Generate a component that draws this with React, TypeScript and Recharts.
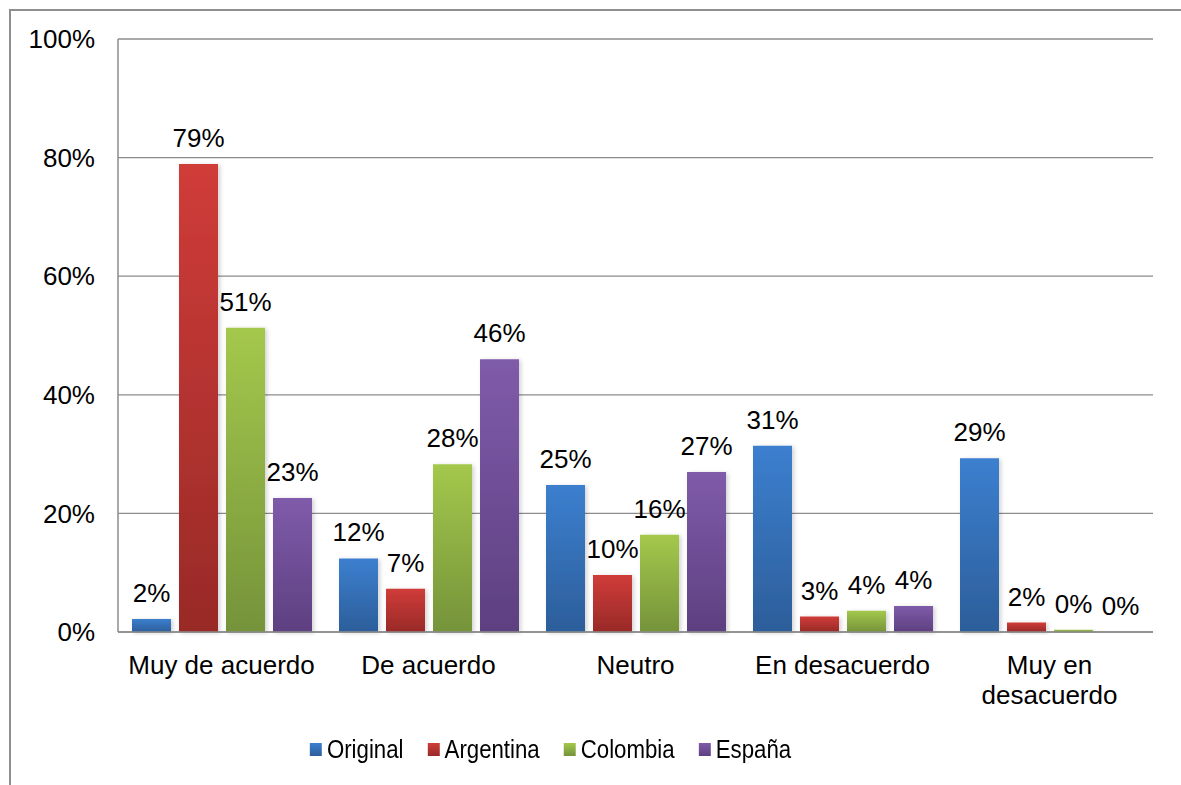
import React from 'react';
import { BarChart, Bar, XAxis, YAxis, CartesianGrid, Legend, LabelList, Rectangle } from 'recharts';

const categories = ['Muy de acuerdo', 'De acuerdo', 'Neutro', 'En desacuerdo', 'Muy en desacuerdo'];
const original = [2.2, 12.4, 24.8, 31.4, 29.3];
const argentina = [78.9, 7.3, 9.6, 2.6, 1.6];
const colombia = [51.3, 28.3, 16.4, 3.6, 0.4];
const espana = [22.6, 46.0, 27.0, 4.4, 0];
const yTicks = [0, 20, 40, 60, 80, 100];

const seriesDefs = [
  { key: 'Original', values: original, top: '#3C7FCF', bottom: '#2C5E9A' },
  { key: 'Argentina', values: argentina, top: '#D03C39', bottom: '#982A27' },
  { key: 'Colombia', values: colombia, top: '#A4C84C', bottom: '#75933A' },
  { key: 'España', values: espana, top: '#7F5BAA', bottom: '#5D4080' },
];

const data = categories.map((c, i) => {
  const row: Record<string, any> = { name: c };
  seriesDefs.forEach((s) => {
    row[s.key] = s.values[i];
  });
  return row;
});

const FONT = '"Liberation Sans", Arial, sans-serif';
const MAX_CHARS = 15;

function wrapLabel(label: string): string[] {
  const words = label.split(' ');
  const lines: string[] = [];
  let cur = '';
  words.forEach((w) => {
    const next = cur ? cur + ' ' + w : w;
    if (next.length > MAX_CHARS && cur) {
      lines.push(cur);
      cur = w;
    } else {
      cur = next;
    }
  });
  if (cur) lines.push(cur);
  return lines;
}

const XTick = (props: any) => {
  const { x, y, payload } = props;
  const lines = wrapLabel(String(payload.value));
  return (
    <text x={x} y={y + 34} textAnchor="middle" fontSize={26} fontFamily={FONT} fill="#000">
      {lines.map((l, i) => (
        <tspan key={i} x={x} dy={i === 0 ? 0 : 30}>
          {l}
        </tspan>
      ))}
    </text>
  );
};

const LegendContent = () => (
  <div style={{ display: 'flex', justifyContent: 'center', paddingRight: 80 }}>
    <div
      style={{
        display: 'flex',
        alignItems: 'center',
        fontFamily: FONT,
        fontSize: 26,
        lineHeight: '30px',
        color: '#000',
        transform: 'scaleX(0.855)',
        transformOrigin: 'center',
      }}
    >
      {seriesDefs.map((s, i) => (
        <div
          key={s.key}
          style={{ display: 'flex', alignItems: 'center', marginRight: i === seriesDefs.length - 1 ? 0 : 28 }}
        >
          <div
            style={{
              width: 14,
              height: 13,
              background: `linear-gradient(${s.top}, ${s.bottom})`,
              marginRight: 6,
            }}
          />
          <span>{s.key}</span>
        </div>
      ))}
    </div>
  </div>
);

const ShadowBar = (props: any) => <Rectangle {...props} filter="url(#barShadow)" />;

export default function App() {
  return (
    <div
      style={{
        position: 'absolute',
        left: 0,
        top: 0,
        width: 1181,
        height: 785,
        overflow: 'hidden',
        background: '#fff',
      }}
    >
      <div
        style={{
          position: 'absolute',
          left: 9,
          top: 9,
          width: 1300,
          height: 900,
          borderLeft: '2px solid #8f8f8f',
          borderTop: '2px solid #8f8f8f',
        }}
      />
      <div style={{ position: 'absolute', left: 0, top: 0 }}>
        <BarChart
          width={1181}
          height={785}
          data={data}
          margin={{ top: 39, right: 28, left: 18, bottom: 53 }}
          barSize={39}
          barGap={8}
        >
          <defs>
            {seriesDefs.map((s, i) => (
              <linearGradient key={s.key} id={`grad${i}`} x1="0" y1="0" x2="0" y2="1">
                <stop offset="0%" stopColor={s.top} />
                <stop offset="100%" stopColor={s.bottom} />
              </linearGradient>
            ))}
            <filter id="barShadow" x="-20%" y="-20%" width="150%" height="150%">
              <feDropShadow dx="2" dy="1" stdDeviation="2" floodColor="#000" floodOpacity="0.18" />
            </filter>
          </defs>
          <CartesianGrid vertical={false} stroke="#8c8c8c" strokeWidth={1.3} />
          <XAxis
            dataKey="name"
            interval={0}
            height={100}
            axisLine={{ stroke: '#8c8c8c', strokeWidth: 1.5 }}
            tickLine={false}
            tick={<XTick />}
          />
          <YAxis
            domain={[0, 100]}
            ticks={yTicks}
            width={100}
            axisLine={{ stroke: '#8c8c8c', strokeWidth: 1.5 }}
            tickLine={false}
            tickSize={0}
            tickMargin={23}
            tickFormatter={(v: number) => `${v}%`}
            tick={{ fontSize: 26, fontFamily: FONT, fill: '#000' }}
          />
          <Legend
            verticalAlign="middle"
            align="center"
            layout="horizontal"
            wrapperStyle={{ top: 734, left: 0, width: 1181 }}
            content={<LegendContent />}
          />
          {seriesDefs.map((s, i) => (
            <Bar
              key={s.key}
              dataKey={s.key}
              fill={`url(#grad${i})`}
              isAnimationActive={false}
              shape={<ShadowBar />}
            >
              <LabelList
                dataKey={s.key}
                position="top"
                offset={17}
                formatter={(v: any) => `${Math.round(Number(v))}%`}
                style={{ fontSize: 26, fontFamily: FONT, fill: '#000' }}
              />
            </Bar>
          ))}
        </BarChart>
      </div>
    </div>
  );
}
